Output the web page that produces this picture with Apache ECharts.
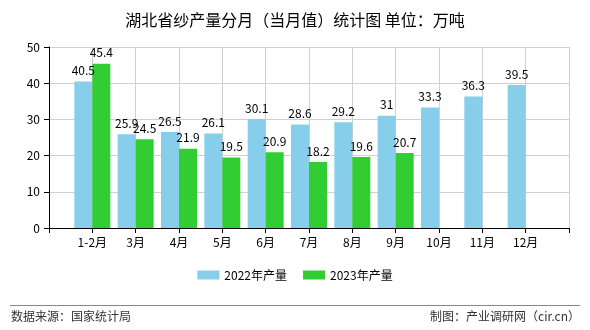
<!DOCTYPE html>
<html>
<head>
<meta charset="utf-8">
<script src="https://cdn.jsdelivr.net/npm/echarts@6/dist/echarts.min.js"></script>
<style>
html,body{margin:0;padding:0;background:#fff;}
#main{width:590px;height:330px;}
</style>
</head>
<body>
<div id="main"></div>
<script>
const months = ['1-2月','3月','4月','5月','6月','7月','8月','9月','10月','11月','12月'];
const prod2022 = [40.5, 25.9, 26.5, 26.1, 30.1, 28.6, 29.2, 31, 33.3, 36.3, 39.5];
const prod2023 = [45.4, 24.5, 21.9, 19.5, 20.9, 18.2, 19.6, 20.7];
const seriesNames = ['2022年产量', '2023年产量'];
const yTicks = [0, 10, 20, 30, 40, 50];

const FONT = '"Noto Sans CJK SC", "Noto Sans", sans-serif';
const axisCats = [''].concat(months, ['']);
function pad(arr) {
  const out = [null];
  for (let i = 0; i < months.length; i++) out.push(i < arr.length ? arr[i] : null);
  out.push(null);
  return out;
}

const chart = echarts.init(document.getElementById('main'));
const labelCfg = { show: true, position: 'top', distance: 5, color: '#000', fontSize: 12, fontFamily: FONT };
chart.setOption({
  backgroundColor: '#fff',
  animation: false,
  title: {
    text: '湖北省纱产量分月（当月值）统计图 单位：万吨',
    left: 'center', top: 7,
    textStyle: { fontSize: 16, fontWeight: 'normal', color: '#000', fontFamily: FONT }
  },
  grid: { left: 49, right: 21, top: 47, bottom: 102, containLabel: false },
  legend: {
    bottom: 44,
    left: 'center',
    icon: 'rect',
    itemWidth: 22, itemHeight: 9, itemGap: 16,
    textStyle: { fontSize: 12, color: '#000', fontFamily: FONT },
    data: seriesNames
  },
  xAxis: {
    type: 'category',
    data: axisCats,
    boundaryGap: false,
    axisLine: { lineStyle: { color: '#000', width: 1 } },
    axisTick: { show: true, length: 5, lineStyle: { color: '#000' }, interval: 0 },
    axisLabel: { color: '#000', fontSize: 12, margin: 8, interval: 0, fontFamily: FONT },
    splitLine: { show: true, interval: 0, lineStyle: { color: '#d0d0d0', width: 1 } }
  },
  yAxis: {
    type: 'value',
    min: yTicks[0], max: yTicks[yTicks.length - 1], interval: 10,
    axisLine: { show: true, lineStyle: { color: '#000', width: 1 } },
    axisTick: { show: true, length: 5, lineStyle: { color: '#000' } },
    axisLabel: { color: '#000', fontSize: 12, margin: 9, fontFamily: FONT },
    splitLine: { show: true, lineStyle: { color: '#d0d0d0', width: 1 } }
  },
  series: [
    {
      name: seriesNames[0], type: 'bar', data: pad(prod2022),
      barWidth: 18, barGap: '0%',
      itemStyle: { color: '#87CEEB' },
      label: labelCfg
    },
    {
      name: seriesNames[1], type: 'bar', data: pad(prod2023),
      barWidth: 18, barGap: '0%',
      itemStyle: { color: '#32CD32' },
      label: labelCfg
    }
  ],
  graphic: [
    { type: 'line', shape: { x1: 10, y1: 305.5, x2: 580, y2: 305.5 }, style: { stroke: '#888', lineWidth: 1 } },
    { type: 'text', left: 11, top: 310, style: { text: '数据来源：国家统计局', fontSize: 12, fill: '#333', fontFamily: FONT } },
    { type: 'text', right: 10, top: 310, style: { text: '制图：产业调研网（cir.cn）', fontSize: 12, fill: '#333', fontFamily: FONT } }
  ]
});
</script>
</body>
</html>
